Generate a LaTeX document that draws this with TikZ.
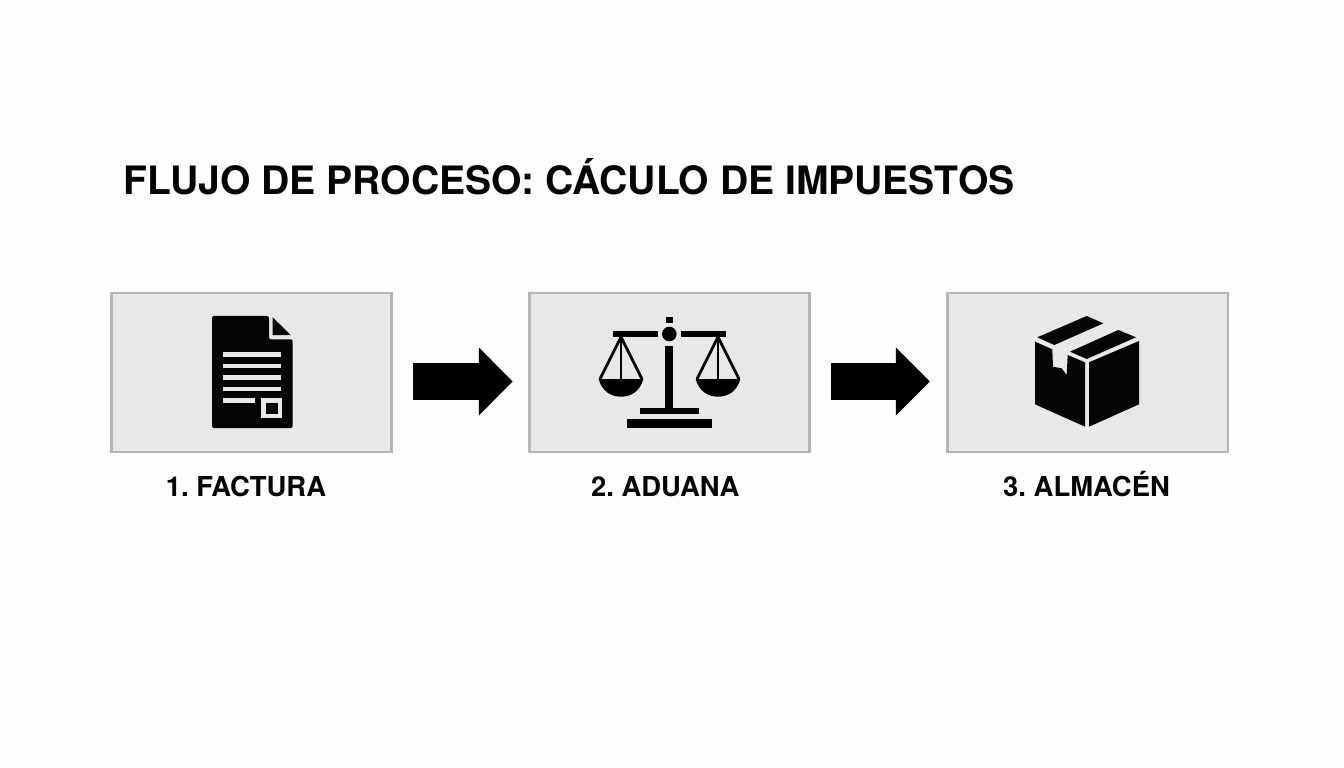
\documentclass[tikz,border=0pt]{standalone}
\usepackage{fontspec}
\setmainfont{TeX Gyre Heros}
\usetikzlibrary{arrows.meta}
\usetikzlibrary{positioning}
\definecolor{pagecol}{HTML}{FDFDFD}
\definecolor{boxcol}{HTML}{E8E8E8}
\definecolor{edgecol}{HTML}{B4B5B5}
\definecolor{inkcol}{HTML}{040404}
\frenchspacing
\tikzset{
	stage/.style={draw=edgecol,fill=boxcol,line width=0.06cm,outer sep=0pt,minimum width=7cm,minimum height=3.98cm},
	stagelabel/.style={font=\fontsize{19.5}{22}\selectfont\bfseries,text=inkcol,inner sep=0pt,text height=0.5cm,text depth=0pt},
	flow/.style={line width=0.9cm,draw=black,-{Triangle[length=0.85cm,width=1.65cm]},shorten <=0.545cm,shorten >=0.42cm},
	cutline/.style={line width=0.115cm,draw=boxcol},
	rope/.style={line width=0.07cm,draw=black}
}
\begin{document}
\begin{tikzpicture}[x=0.025cm,y=-0.025cm]
	\fill[pagecol](0,0) rectangle (1344,768);
	\useasboundingbox (0,0) rectangle (1344,768);
	\node[anchor=base west,inner sep=0pt,font=\fontsize{27.8}{32}\selectfont\bfseries,text=inkcol] (title) at (123,195) {FLUJO DE PROCESO: CÁCULO DE IMPUESTOS};
	\node[stage] (factura) at (251.5,372.5) {};
	\node[stage,right=3.45cm of factura] (aduana) {};
	\node[stage,right=3.45cm of aduana] (almacen) {};
	\node[stagelabel,below=0.6cm of factura,xshift=-0.14cm] (facturatxt) {1. FACTURA};
	\node[stagelabel,below=0.6cm of aduana,xshift=-0.11cm] (aduanatxt) {2. ADUANA};
	\node[stagelabel,below=0.6cm of almacen,xshift=-0.03cm] (almacentxt) {3. ALMACÉN};
	\draw[flow]([yshift=-0.225cm]factura.east)--([yshift=-0.225cm]aduana.west);
	\draw[flow,shorten >=0.445cm]([yshift=-0.225cm]aduana.east)--([yshift=-0.225cm]almacen.west);
	\fill[inkcol,rounded corners=0.05cm](212,316)--(269,316)--(269,339.3)--(292.7,339.3)--(292.7,428)--(212,428)--cycle;
	\fill[inkcol](272.7,317.3)--(290.7,335)--(272.7,335)--cycle;
	\foreach \ypos in {354.3,366,377.7,389}
		\draw[cutline](222.7,\ypos)--(281.3,\ypos);
	\draw[cutline](222.7,400.3)--(255,400.3);
	\draw[cutline](263.6,400.2) rectangle (279.8,416);
	\fill[black](613.3,331) rectangle (658.3,337.3);
	\fill[black](680.7,331) rectangle (726,337.3);
	\fill[black](669.3,334) circle (7.3);
	\fill[black](665.7,317) rectangle (673.3,323);
	\fill[black](665.3,345.7) rectangle (673.3,407.7);
	\fill[black](640,407.7) rectangle (699.3,414.3);
	\fill[black](627.3,419) rectangle (711.7,428.3);
	\foreach \xpos in {621,718}{
		\draw[rope](\xpos-21,379)--(\xpos,337)--(\xpos+21,379);
		\draw[rope](\xpos,337)--(\xpos,379);
		\fill[black](\xpos-22.3,379) .. controls (\xpos-19,392) and (\xpos-9,396.7) .. (\xpos,396.7) .. controls (\xpos+9,396.7) and (\xpos+19,392) .. (\xpos+22.3,379)--cycle;
	}
	\fill[inkcol](1035,341.7)--(1052.3,349.3)--(1053,366.7)--(1061.7,368.3)--(1066.7,375)--(1067.7,355)--(1085,362.3)--(1085,426.7)--(1035,404.3)--cycle;
	\fill[inkcol](1089,362.3)--(1139,341)--(1139,404.3)--(1089,426.7)--cycle;
	\fill[inkcol](1037.3,337.3)--(1086.7,316)--(1103.3,323.3)--(1054.3,345)--cycle;
	\fill[inkcol](1070,351.7)--(1118.3,330)--(1136,337.3)--(1086.7,359)--cycle;
\end{tikzpicture}
\end{document}
